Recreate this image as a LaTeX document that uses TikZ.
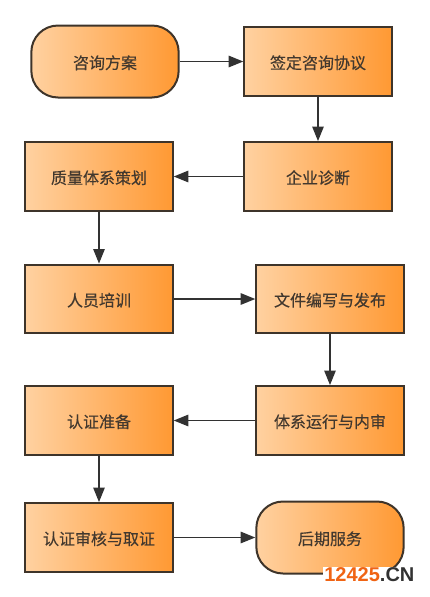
\documentclass[tikz,border=0pt]{standalone}
\usepackage{fontspec}
\usepackage{xcolor}
\setmainfont{Noto Sans CJK SC}[FakeBold=0.35]
\newfontfamily\markfont{Liberation Sans}
\usetikzlibrary{arrows.meta}
\definecolor{edgeC}{RGB}{62,52,42}
\definecolor{lineC}{RGB}{50,50,50}
\definecolor{textC}{RGB}{66,56,46}
\definecolor{markO}{RGB}{240,100,20}
\pgfdeclarehorizontalshading{stagefill}{100bp}{
  rgb(0bp)=(1,0.82,0.63); rgb(25bp)=(1,0.82,0.63);
  rgb(75bp)=(1,0.6,0.2); rgb(100bp)=(1,0.6,0.2)}
\tikzset{
  stage/.style={draw=edgeC, line width=1.5pt, shading=stagefill, shading angle=0,
    minimum width=110.5pt, minimum height=51.5pt, inner sep=0pt, text=textC,
    text height=11.5pt, text depth=0.5pt, font=\fontsize{12pt}{14pt}\selectfont},
  roundstage/.style={stage, rounded corners=20pt, minimum height=54pt},
  flow/.style={draw=lineC, line width=1.4pt, -{Triangle[length=11pt,width=8.5pt]}}
}
\begin{document}
\begin{tikzpicture}[x=0.75pt,y=-0.75pt]

% ---- page size ----
\useasboundingbox (0,0) rectangle (429,597);

% ---- stages ----
\node[roundstage] (plan)    at (105,61.5)  {咨询方案};
\node[stage]      (sign)    at (318,61.5)  {签定咨询协议};
\node[stage]      (diag)    at (318,176.5) {企业诊断};
\node[stage]      (design)  at (99,176.5)  {质量体系策划};
\node[stage]      (train)   at (99,299)    {人员培训};
\node[stage]      (docs)    at (330,299)   {文件编写与发布};
\node[stage]      (audit)   at (330,420.5) {体系运行与内审};
\node[stage]      (prep)    at (99,420.5)  {认证准备};
\node[stage]      (cert)    at (99,537.5)  {认证审核与取证};
\node[roundstage] (service) at (330,537.5) {后期服务};

% ---- connectors ----
\draw[flow] (plan) -- (sign);
\draw[flow] (sign) -- (diag);
\draw[flow] (diag) -- (design);
\draw[flow] (design) -- (train);
\draw[flow] (train) -- (docs);
\draw[flow] (docs) -- (audit);
\draw[flow] (audit) -- (prep);
\draw[flow] (prep) -- (cert);
\draw[flow] (cert) -- (service);

% Watermark
\node[anchor=east, fill=white, inner xsep=1pt, inner ysep=0.5pt, font=\markfont\fontsize{15pt}{16pt}\selectfont\bfseries] (mark) at (416,574.5)
  {\textcolor{markO}{12425}\textcolor{lineC}{.CN}};

\end{tikzpicture}
\end{document}
